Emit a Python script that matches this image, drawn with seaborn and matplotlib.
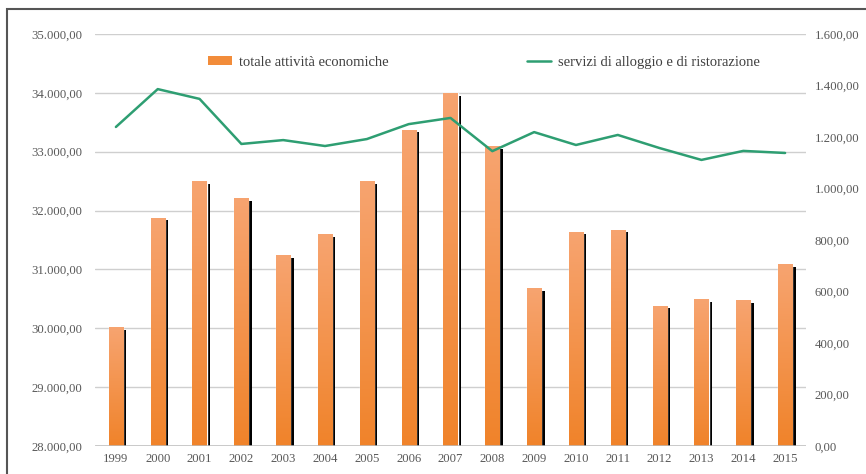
import numpy as np
import pandas as pd
import matplotlib
matplotlib.use("Agg")
import matplotlib.pyplot as plt
import matplotlib.patheffects as pe
from matplotlib.patches import Patch, Rectangle
from matplotlib.lines import Line2D
from matplotlib.colors import LinearSegmentedColormap
from matplotlib.ticker import FuncFormatter, MultipleLocator
import seaborn as sns

years = ["1999", "2000", "2001", "2002", "2003", "2004", "2005", "2006", "2007",
         "2008", "2009", "2010", "2011", "2012", "2013", "2014", "2015"]
totale = [30020, 31874, 32500, 32213, 31240, 31600, 32500, 33369, 33990,
          33097, 30684, 31636, 31670, 30379, 30497, 30480, 31092]
servizi = [1239, 1386, 1348, 1173, 1188, 1165, 1192, 1250, 1274,
           1145, 1219, 1169, 1208, 1157, 1111, 1146, 1138]
label_bar = "totale attività economiche"
label_line = "servizi di alloggio e di ristorazione"

sns.set_theme(style="white")
plt.rcParams["font.family"] = ["Liberation Serif", "DejaVu Serif"]

df = pd.DataFrame({"anno": years, "totale": totale, "servizi": servizi})

fig = plt.figure(figsize=(8.66, 4.74), dpi=100)
ax = fig.add_axes([95 / 866, 28 / 474, 711 / 866, 412 / 474])

orange = "#F28C3A"
sns.barplot(data=df, x="anno", y="totale", ax=ax, color=orange, width=0.34,
            saturation=1, zorder=3)

ymin, ymax = 28000, 35000
ax.set_ylim(ymin, ymax)
ax.set_xlim(-0.5, len(years) - 0.5)

# gradient fill + shadow on bars
cmap = LinearSegmentedColormap.from_list("og", ["#F0832A", "#F7A470"])
grad = np.linspace(0, 1, 256).reshape(-1, 1)
for p in list(ax.patches):
    p.set_path_effects([pe.SimplePatchShadow(offset=(2.4, -1.8), shadow_rgbFace="black", alpha=1.0),
                        pe.Normal()])
    x0 = p.get_x()
    w, h = p.get_width(), p.get_height()
    top = p.get_y() + h
    im = ax.imshow(grad, extent=[x0, x0 + w, ymin, top], origin="lower",
                   aspect="auto", cmap=cmap, zorder=3.5, interpolation="bilinear")
    im.set_clip_path(p)
ax.set_ylim(ymin, ymax)
ax.set_xlim(-0.5, len(years) - 0.5)

ax2 = ax.twinx()
green = "#2E9E72"
sns.lineplot(x=np.arange(len(years)), y=df["servizi"], ax=ax2, color=green,
             linewidth=1.8, zorder=5)
ax2.set_ylim(0, 1600)
ax2.set_xlim(-0.5, len(years) - 0.5)

fmt = FuncFormatter(lambda v, _: f"{v:,.2f}".replace(",", "X").replace(".", ",").replace("X", "."))
ax.yaxis.set_major_locator(MultipleLocator(1000))
ax.yaxis.set_major_formatter(fmt)
ax2.yaxis.set_major_locator(MultipleLocator(200))
ax2.yaxis.set_major_formatter(fmt)

ax.grid(axis="y", color="#CFCFCF", linewidth=1.0, zorder=0)
ax.set_axisbelow(True)
for a in (ax, ax2):
    for s in ("top", "left", "right", "bottom"):
        a.spines[s].set_visible(False)
ax.axhline(ymin, color="#BDBDBD", linewidth=1.8, zorder=4)
ax.set_xlabel("")
ax.set_ylabel("")
ax2.set_xlabel("")
ax2.set_ylabel("")

tick_color = "#595959"
ax.tick_params(axis="y", length=0, pad=9, labelsize=9.2, labelcolor=tick_color)
ax.tick_params(axis="x", length=0, pad=5, labelsize=9.2, labelcolor=tick_color)
ax2.tick_params(axis="y", length=0, pad=6, labelsize=9.2, labelcolor=tick_color)

handles = [Patch(facecolor=orange, edgecolor="none"),
           Line2D([0], [0], color=green, linewidth=1.8)]
leg = ax.legend(handles, [label_bar, label_line], ncol=2, frameon=False,
                loc="center left", bbox_to_anchor=(0.141, 0.932),
                fontsize=10.5, columnspacing=9.5, handlelength=1.6,
                handleheight=0.6, handletextpad=0.5, labelcolor="#404040")

# outer frame
fig.patches.append(Rectangle((7 / 866, -0.05), 1.2, (474 - 9) / 474 + 0.05,
                             transform=fig.transFigure, fill=False,
                             edgecolor="#555555", linewidth=1.5, zorder=0))

fig.savefig("out.png", dpi=100)
